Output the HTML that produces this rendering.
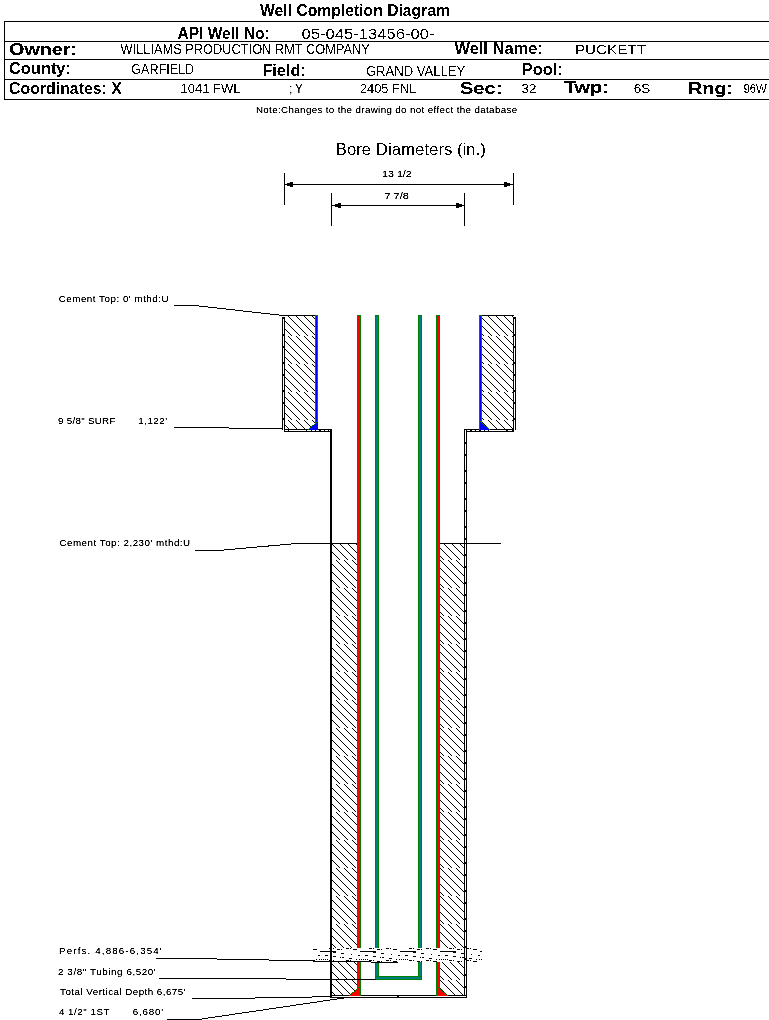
<!DOCTYPE html>
<html><head><meta charset="utf-8"><title>Well Completion Diagram</title>
<style>html,body{margin:0;padding:0;background:#fff;width:769px;height:1020px;overflow:hidden}
svg{display:block;font-family:"Liberation Sans",sans-serif}</style></head>
<body><svg width="769" height="1020" viewBox="0 0 769 1020">
<g shape-rendering="crispEdges"><rect x="4" y="21" width="765" height="1" fill="#000"/><rect x="4" y="41" width="765" height="1" fill="#000"/><rect x="4" y="59" width="765" height="1" fill="#000"/><rect x="4" y="79" width="765" height="1" fill="#000"/><rect x="4" y="99" width="765" height="1" fill="#000"/><rect x="4" y="21" width="1" height="79" fill="#000"/><rect x="284" y="173" width="1" height="32" fill="#000"/><rect x="513" y="173" width="1" height="32" fill="#000"/><rect x="284" y="184" width="230" height="1" fill="#000"/><rect x="287" y="183" width="3" height="3" fill="#000"/><rect x="290" y="182" width="3" height="5" fill="#000"/><rect x="507" y="183" width="3" height="3" fill="#000"/><rect x="504" y="182" width="3" height="5" fill="#000"/><rect x="331" y="193" width="1" height="33" fill="#000"/><rect x="464" y="193" width="1" height="33" fill="#000"/><rect x="331" y="205" width="134" height="1" fill="#000"/><rect x="335" y="204" width="3" height="3" fill="#000"/><rect x="338" y="203" width="3" height="5" fill="#000"/><rect x="459" y="204" width="3" height="3" fill="#000"/><rect x="456" y="203" width="3" height="5" fill="#000"/><pattern id="h1" patternUnits="userSpaceOnUse" x="288" y="308" width="8" height="28"><rect x="0" y="0" width="1" height="1"/><rect x="1" y="1" width="1" height="1"/><rect x="2" y="2" width="1" height="1"/><rect x="3" y="3" width="1" height="1"/><rect x="4" y="4" width="1" height="1"/><rect x="5" y="5" width="1" height="1"/><rect x="6" y="6" width="1" height="1"/><rect x="7" y="7" width="1" height="1"/><rect x="0" y="8" width="1" height="1"/><rect x="1" y="9" width="1" height="1"/><rect x="2" y="10" width="1" height="1"/><rect x="3" y="11" width="1" height="1"/><rect x="4" y="12" width="1" height="1"/><rect x="5" y="13" width="1" height="1"/><rect x="6" y="14" width="1" height="1"/><rect x="7" y="15" width="1" height="1"/><rect x="0" y="16" width="1" height="1"/><rect x="1" y="17" width="1" height="1"/><rect x="2" y="18" width="1" height="1"/><rect x="3" y="19" width="1" height="1"/><rect x="4" y="20" width="1" height="1"/><rect x="5" y="21" width="1" height="1"/><rect x="6" y="22" width="1" height="1"/><rect x="7" y="23" width="1" height="1"/><rect x="0" y="24" width="1" height="1"/><rect x="1" y="25" width="1" height="1"/><rect x="2" y="26" width="1" height="1"/><rect x="3" y="27" width="1" height="1"/></pattern><rect x="285" y="316" width="30" height="113" fill="url(#h1)"/><pattern id="h2" patternUnits="userSpaceOnUse" x="480" y="308" width="8" height="28"><rect x="0" y="0" width="1" height="1"/><rect x="1" y="1" width="1" height="1"/><rect x="2" y="2" width="1" height="1"/><rect x="3" y="3" width="1" height="1"/><rect x="4" y="4" width="1" height="1"/><rect x="5" y="5" width="1" height="1"/><rect x="6" y="6" width="1" height="1"/><rect x="7" y="7" width="1" height="1"/><rect x="0" y="8" width="1" height="1"/><rect x="1" y="9" width="1" height="1"/><rect x="2" y="10" width="1" height="1"/><rect x="3" y="11" width="1" height="1"/><rect x="4" y="12" width="1" height="1"/><rect x="5" y="13" width="1" height="1"/><rect x="6" y="14" width="1" height="1"/><rect x="7" y="15" width="1" height="1"/><rect x="0" y="16" width="1" height="1"/><rect x="1" y="17" width="1" height="1"/><rect x="2" y="18" width="1" height="1"/><rect x="3" y="19" width="1" height="1"/><rect x="4" y="20" width="1" height="1"/><rect x="5" y="21" width="1" height="1"/><rect x="6" y="22" width="1" height="1"/><rect x="7" y="23" width="1" height="1"/><rect x="0" y="24" width="1" height="1"/><rect x="1" y="25" width="1" height="1"/><rect x="2" y="26" width="1" height="1"/><rect x="3" y="27" width="1" height="1"/></pattern><rect x="482" y="316" width="31" height="113" fill="url(#h2)"/><pattern id="h3" patternUnits="userSpaceOnUse" x="336" y="588" width="8" height="28"><rect x="0" y="0" width="1" height="1"/><rect x="1" y="1" width="1" height="1"/><rect x="2" y="2" width="1" height="1"/><rect x="3" y="3" width="1" height="1"/><rect x="4" y="4" width="1" height="1"/><rect x="5" y="5" width="1" height="1"/><rect x="6" y="6" width="1" height="1"/><rect x="7" y="7" width="1" height="1"/><rect x="0" y="8" width="1" height="1"/><rect x="1" y="9" width="1" height="1"/><rect x="2" y="10" width="1" height="1"/><rect x="3" y="11" width="1" height="1"/><rect x="4" y="12" width="1" height="1"/><rect x="5" y="13" width="1" height="1"/><rect x="6" y="14" width="1" height="1"/><rect x="7" y="15" width="1" height="1"/><rect x="0" y="16" width="1" height="1"/><rect x="1" y="17" width="1" height="1"/><rect x="2" y="18" width="1" height="1"/><rect x="3" y="19" width="1" height="1"/><rect x="4" y="20" width="1" height="1"/><rect x="5" y="21" width="1" height="1"/><rect x="6" y="22" width="1" height="1"/><rect x="7" y="23" width="1" height="1"/><rect x="0" y="24" width="1" height="1"/><rect x="1" y="25" width="1" height="1"/><rect x="2" y="26" width="1" height="1"/><rect x="3" y="27" width="1" height="1"/></pattern><rect x="332" y="544" width="25" height="451" fill="url(#h3)"/><pattern id="h4" patternUnits="userSpaceOnUse" x="440" y="588" width="8" height="28"><rect x="0" y="0" width="1" height="1"/><rect x="1" y="1" width="1" height="1"/><rect x="2" y="2" width="1" height="1"/><rect x="3" y="3" width="1" height="1"/><rect x="4" y="4" width="1" height="1"/><rect x="5" y="5" width="1" height="1"/><rect x="6" y="6" width="1" height="1"/><rect x="7" y="7" width="1" height="1"/><rect x="0" y="8" width="1" height="1"/><rect x="1" y="9" width="1" height="1"/><rect x="2" y="10" width="1" height="1"/><rect x="3" y="11" width="1" height="1"/><rect x="4" y="12" width="1" height="1"/><rect x="5" y="13" width="1" height="1"/><rect x="6" y="14" width="1" height="1"/><rect x="7" y="15" width="1" height="1"/><rect x="0" y="16" width="1" height="1"/><rect x="1" y="17" width="1" height="1"/><rect x="2" y="18" width="1" height="1"/><rect x="3" y="19" width="1" height="1"/><rect x="4" y="20" width="1" height="1"/><rect x="5" y="21" width="1" height="1"/><rect x="6" y="22" width="1" height="1"/><rect x="7" y="23" width="1" height="1"/><rect x="0" y="24" width="1" height="1"/><rect x="1" y="25" width="1" height="1"/><rect x="2" y="26" width="1" height="1"/><rect x="3" y="27" width="1" height="1"/></pattern><rect x="440" y="544" width="24" height="451" fill="url(#h4)"/><rect x="283" y="315" width="35" height="1" fill="#000"/><rect x="479" y="315" width="35" height="1" fill="#000"/><rect x="282" y="317" width="3" height="113" fill="#000"/><rect x="283" y="317" width="1" height="113" fill="#fff"/><rect x="283" y="317" width="1" height="2" fill="#000"/><rect x="283" y="334" width="1" height="2" fill="#000"/><rect x="283" y="346" width="1" height="2" fill="#000"/><rect x="283" y="362" width="1" height="2" fill="#000"/><rect x="283" y="374" width="1" height="2" fill="#000"/><rect x="283" y="390" width="1" height="2" fill="#000"/><rect x="283" y="402" width="1" height="2" fill="#000"/><rect x="283" y="418" width="1" height="2" fill="#000"/><rect x="513" y="317" width="3" height="113" fill="#000"/><rect x="514" y="317" width="1" height="113" fill="#fff"/><rect x="514" y="317" width="1" height="2" fill="#000"/><rect x="514" y="334" width="1" height="2" fill="#000"/><rect x="514" y="346" width="1" height="2" fill="#000"/><rect x="514" y="362" width="1" height="2" fill="#000"/><rect x="514" y="374" width="1" height="2" fill="#000"/><rect x="514" y="390" width="1" height="2" fill="#000"/><rect x="514" y="402" width="1" height="2" fill="#000"/><rect x="514" y="418" width="1" height="2" fill="#000"/><rect x="284" y="429" width="48" height="3" fill="#000"/><rect x="285" y="430" width="3" height="1" fill="#fff"/><rect x="289" y="430" width="17" height="1" fill="#fff"/><rect x="307" y="430" width="4" height="1" fill="#fff"/><rect x="312" y="430" width="3" height="1" fill="#fff"/><rect x="316" y="430" width="3" height="1" fill="#fff"/><rect x="321" y="430" width="3" height="1" fill="#fff"/><rect x="325" y="430" width="3" height="1" fill="#fff"/><rect x="329" y="430" width="1" height="1" fill="#fff"/><rect x="464" y="429" width="50" height="3" fill="#000"/><rect x="467" y="430" width="3" height="1" fill="#fff"/><rect x="472" y="430" width="3" height="1" fill="#fff"/><rect x="476" y="430" width="3" height="1" fill="#fff"/><rect x="481" y="430" width="3" height="1" fill="#fff"/><rect x="485" y="430" width="3" height="1" fill="#fff"/><rect x="489" y="430" width="17" height="1" fill="#fff"/><rect x="508" y="430" width="4" height="1" fill="#fff"/><rect x="330" y="429" width="2" height="569" fill="#000"/><rect x="464" y="430" width="3" height="568" fill="#000"/><rect x="465" y="430" width="1" height="568" fill="#fff"/><rect x="465" y="442" width="1" height="2" fill="#000"/><rect x="465" y="454" width="1" height="2" fill="#000"/><rect x="465" y="470" width="1" height="2" fill="#000"/><rect x="465" y="482" width="1" height="2" fill="#000"/><rect x="465" y="498" width="1" height="2" fill="#000"/><rect x="465" y="510" width="1" height="2" fill="#000"/><rect x="465" y="526" width="1" height="2" fill="#000"/><rect x="465" y="538" width="1" height="2" fill="#000"/><rect x="465" y="554" width="1" height="2" fill="#000"/><rect x="465" y="566" width="1" height="2" fill="#000"/><rect x="465" y="582" width="1" height="2" fill="#000"/><rect x="465" y="594" width="1" height="2" fill="#000"/><rect x="465" y="610" width="1" height="2" fill="#000"/><rect x="465" y="622" width="1" height="2" fill="#000"/><rect x="465" y="638" width="1" height="2" fill="#000"/><rect x="465" y="650" width="1" height="2" fill="#000"/><rect x="465" y="666" width="1" height="2" fill="#000"/><rect x="465" y="678" width="1" height="2" fill="#000"/><rect x="465" y="694" width="1" height="2" fill="#000"/><rect x="465" y="706" width="1" height="2" fill="#000"/><rect x="465" y="722" width="1" height="2" fill="#000"/><rect x="465" y="734" width="1" height="2" fill="#000"/><rect x="465" y="750" width="1" height="2" fill="#000"/><rect x="465" y="762" width="1" height="2" fill="#000"/><rect x="465" y="778" width="1" height="2" fill="#000"/><rect x="465" y="790" width="1" height="2" fill="#000"/><rect x="465" y="806" width="1" height="2" fill="#000"/><rect x="465" y="818" width="1" height="2" fill="#000"/><rect x="465" y="834" width="1" height="2" fill="#000"/><rect x="465" y="846" width="1" height="2" fill="#000"/><rect x="465" y="862" width="1" height="2" fill="#000"/><rect x="465" y="874" width="1" height="2" fill="#000"/><rect x="465" y="890" width="1" height="2" fill="#000"/><rect x="465" y="902" width="1" height="2" fill="#000"/><rect x="465" y="918" width="1" height="2" fill="#000"/><rect x="465" y="930" width="1" height="2" fill="#000"/><rect x="465" y="946" width="1" height="2" fill="#000"/><rect x="465" y="958" width="1" height="2" fill="#000"/><rect x="465" y="974" width="1" height="2" fill="#000"/><rect x="465" y="986" width="1" height="2" fill="#000"/><rect x="330" y="995" width="137" height="3" fill="#000"/><rect x="332" y="996" width="65" height="1" fill="#fff"/><rect x="399" y="996" width="67" height="1" fill="#fff"/><rect x="332" y="543" width="26" height="1" fill="#000"/><rect x="440" y="543" width="61" height="1" fill="#000"/><rect x="315" y="315" width="3" height="115" fill="#008000"/><rect x="316" y="316" width="1" height="113" fill="#0000ff"/><rect x="479" y="315" width="3" height="115" fill="#008000"/><rect x="480" y="316" width="1" height="113" fill="#0000ff"/><rect x="308" y="429" width="10" height="1" fill="#0000ff"/><rect x="309" y="428" width="9" height="1" fill="#0000ff"/><rect x="310" y="427" width="8" height="1" fill="#0000ff"/><rect x="311" y="426" width="7" height="1" fill="#0000ff"/><rect x="312" y="425" width="6" height="1" fill="#0000ff"/><rect x="314" y="424" width="4" height="1" fill="#0000ff"/><rect x="315" y="423" width="3" height="1" fill="#0000ff"/><rect x="316" y="422" width="2" height="1" fill="#0000ff"/><rect x="317" y="421" width="1" height="1" fill="#0000ff"/><rect x="308" y="429" width="1" height="1" fill="#008000"/><rect x="309" y="428" width="1" height="1" fill="#008000"/><rect x="310" y="427" width="1" height="1" fill="#008000"/><rect x="311" y="426" width="1" height="1" fill="#008000"/><rect x="312" y="425" width="1" height="1" fill="#008000"/><rect x="314" y="424" width="1" height="1" fill="#008000"/><rect x="315" y="423" width="1" height="1" fill="#008000"/><rect x="316" y="422" width="1" height="1" fill="#008000"/><rect x="317" y="421" width="1" height="1" fill="#008000"/><rect x="480" y="429" width="10" height="1" fill="#0000ff"/><rect x="480" y="428" width="9" height="1" fill="#0000ff"/><rect x="480" y="427" width="8" height="1" fill="#0000ff"/><rect x="480" y="426" width="7" height="1" fill="#0000ff"/><rect x="480" y="425" width="5" height="1" fill="#0000ff"/><rect x="480" y="424" width="4" height="1" fill="#0000ff"/><rect x="480" y="423" width="3" height="1" fill="#0000ff"/><rect x="480" y="422" width="2" height="1" fill="#0000ff"/><rect x="480" y="421" width="1" height="1" fill="#0000ff"/><rect x="489" y="429" width="1" height="1" fill="#008000"/><rect x="488" y="428" width="1" height="1" fill="#008000"/><rect x="487" y="427" width="1" height="1" fill="#008000"/><rect x="486" y="426" width="1" height="1" fill="#008000"/><rect x="484" y="425" width="1" height="1" fill="#008000"/><rect x="483" y="424" width="1" height="1" fill="#008000"/><rect x="482" y="423" width="1" height="1" fill="#008000"/><rect x="481" y="422" width="1" height="1" fill="#008000"/><rect x="480" y="421" width="1" height="1" fill="#008000"/><rect x="357" y="315" width="4" height="681" fill="#008000"/><rect x="358" y="316" width="2" height="679" fill="#ff0000"/><rect x="436" y="315" width="4" height="681" fill="#008000"/><rect x="437" y="316" width="2" height="679" fill="#ff0000"/><rect x="349" y="995" width="10" height="1" fill="#ff0000"/><rect x="350" y="994" width="9" height="1" fill="#ff0000"/><rect x="351" y="993" width="8" height="1" fill="#ff0000"/><rect x="352" y="992" width="7" height="1" fill="#ff0000"/><rect x="354" y="991" width="5" height="1" fill="#ff0000"/><rect x="355" y="990" width="4" height="1" fill="#ff0000"/><rect x="356" y="989" width="3" height="1" fill="#ff0000"/><rect x="357" y="988" width="2" height="1" fill="#ff0000"/><rect x="358" y="987" width="1" height="1" fill="#ff0000"/><rect x="349" y="995" width="1" height="1" fill="#008000"/><rect x="350" y="994" width="1" height="1" fill="#008000"/><rect x="351" y="993" width="1" height="1" fill="#008000"/><rect x="352" y="992" width="1" height="1" fill="#008000"/><rect x="354" y="991" width="1" height="1" fill="#008000"/><rect x="355" y="990" width="1" height="1" fill="#008000"/><rect x="356" y="989" width="1" height="1" fill="#008000"/><rect x="357" y="988" width="1" height="1" fill="#008000"/><rect x="358" y="987" width="1" height="1" fill="#008000"/><rect x="438" y="995" width="10" height="1" fill="#ff0000"/><rect x="438" y="994" width="9" height="1" fill="#ff0000"/><rect x="438" y="993" width="8" height="1" fill="#ff0000"/><rect x="438" y="992" width="7" height="1" fill="#ff0000"/><rect x="438" y="991" width="5" height="1" fill="#ff0000"/><rect x="438" y="990" width="4" height="1" fill="#ff0000"/><rect x="438" y="989" width="3" height="1" fill="#ff0000"/><rect x="438" y="988" width="2" height="1" fill="#ff0000"/><rect x="438" y="987" width="1" height="1" fill="#ff0000"/><rect x="447" y="995" width="1" height="1" fill="#008000"/><rect x="446" y="994" width="1" height="1" fill="#008000"/><rect x="445" y="993" width="1" height="1" fill="#008000"/><rect x="444" y="992" width="1" height="1" fill="#008000"/><rect x="442" y="991" width="1" height="1" fill="#008000"/><rect x="441" y="990" width="1" height="1" fill="#008000"/><rect x="440" y="989" width="1" height="1" fill="#008000"/><rect x="439" y="988" width="1" height="1" fill="#008000"/><rect x="438" y="987" width="1" height="1" fill="#008000"/><rect x="375" y="315" width="4" height="665" fill="#008000"/><rect x="376" y="316" width="2" height="663" fill="#008080"/><rect x="418" y="315" width="4" height="665" fill="#008000"/><rect x="419" y="316" width="2" height="663" fill="#008080"/><rect x="375" y="976" width="47" height="4" fill="#008000"/><rect x="376" y="977" width="45" height="2" fill="#008080"/><rect x="313" y="948" width="169" height="14" fill="#fff"/><rect x="346" y="948" width="3" height="1" fill="#000"/><rect x="350" y="948" width="1" height="1" fill="#000"/><rect x="329" y="948" width="3" height="1" fill="#000"/><rect x="333" y="948" width="1" height="1" fill="#000"/><rect x="386" y="948" width="3" height="1" fill="#000"/><rect x="390" y="948" width="1" height="1" fill="#000"/><rect x="369" y="948" width="3" height="1" fill="#000"/><rect x="373" y="948" width="1" height="1" fill="#000"/><rect x="426" y="948" width="3" height="1" fill="#000"/><rect x="430" y="948" width="1" height="1" fill="#000"/><rect x="409" y="948" width="3" height="1" fill="#000"/><rect x="413" y="948" width="1" height="1" fill="#000"/><rect x="466" y="948" width="3" height="1" fill="#000"/><rect x="470" y="948" width="1" height="1" fill="#000"/><rect x="449" y="948" width="3" height="1" fill="#000"/><rect x="453" y="948" width="1" height="1" fill="#000"/><rect x="313" y="949" width="3" height="1" fill="#000"/><rect x="316" y="949" width="1" height="1" fill="#000"/><rect x="353" y="949" width="3" height="1" fill="#000"/><rect x="356" y="949" width="1" height="1" fill="#000"/><rect x="337" y="949" width="3" height="1" fill="#000"/><rect x="341" y="949" width="1" height="1" fill="#000"/><rect x="393" y="949" width="3" height="1" fill="#000"/><rect x="396" y="949" width="1" height="1" fill="#000"/><rect x="377" y="949" width="3" height="1" fill="#000"/><rect x="381" y="949" width="1" height="1" fill="#000"/><rect x="433" y="949" width="3" height="1" fill="#000"/><rect x="436" y="949" width="1" height="1" fill="#000"/><rect x="417" y="949" width="3" height="1" fill="#000"/><rect x="421" y="949" width="1" height="1" fill="#000"/><rect x="473" y="949" width="3" height="1" fill="#000"/><rect x="476" y="949" width="1" height="1" fill="#000"/><rect x="457" y="949" width="3" height="1" fill="#000"/><rect x="461" y="949" width="1" height="1" fill="#000"/><rect x="320" y="951" width="16" height="1" fill="#000"/><rect x="360" y="951" width="16" height="1" fill="#000"/><rect x="400" y="951" width="16" height="1" fill="#000"/><rect x="440" y="951" width="16" height="1" fill="#000"/><rect x="480" y="951" width="2" height="1" fill="#000"/><rect x="333" y="952" width="3" height="1" fill="#000"/><rect x="373" y="952" width="3" height="1" fill="#000"/><rect x="413" y="952" width="3" height="1" fill="#000"/><rect x="453" y="952" width="3" height="1" fill="#000"/><rect x="341" y="953" width="3" height="1" fill="#000"/><rect x="381" y="953" width="3" height="1" fill="#000"/><rect x="421" y="953" width="3" height="1" fill="#000"/><rect x="461" y="953" width="3" height="1" fill="#000"/><rect x="351" y="954" width="1" height="1" fill="#000"/><rect x="391" y="954" width="1" height="1" fill="#000"/><rect x="431" y="954" width="1" height="1" fill="#000"/><rect x="471" y="954" width="1" height="1" fill="#000"/><rect x="318" y="955" width="2" height="1" fill="#000"/><rect x="358" y="955" width="2" height="1" fill="#000"/><rect x="325" y="955" width="3" height="1" fill="#000"/><rect x="398" y="955" width="2" height="1" fill="#000"/><rect x="365" y="955" width="3" height="1" fill="#000"/><rect x="438" y="955" width="2" height="1" fill="#000"/><rect x="405" y="955" width="3" height="1" fill="#000"/><rect x="478" y="955" width="2" height="1" fill="#000"/><rect x="445" y="955" width="3" height="1" fill="#000"/><rect x="333" y="956" width="3" height="1" fill="#000"/><rect x="373" y="956" width="3" height="1" fill="#000"/><rect x="413" y="956" width="3" height="1" fill="#000"/><rect x="453" y="956" width="3" height="1" fill="#000"/><rect x="340" y="957" width="1" height="1" fill="#000"/><rect x="342" y="957" width="2" height="1" fill="#000"/><rect x="380" y="957" width="1" height="1" fill="#000"/><rect x="382" y="957" width="2" height="1" fill="#000"/><rect x="420" y="957" width="1" height="1" fill="#000"/><rect x="422" y="957" width="2" height="1" fill="#000"/><rect x="460" y="957" width="1" height="1" fill="#000"/><rect x="462" y="957" width="2" height="1" fill="#000"/><rect x="349" y="958" width="3" height="1" fill="#000"/><rect x="389" y="958" width="3" height="1" fill="#000"/><rect x="429" y="958" width="3" height="1" fill="#000"/><rect x="469" y="958" width="3" height="1" fill="#000"/><rect x="316" y="959" width="1" height="1" fill="#000"/><rect x="319" y="959" width="1" height="1" fill="#000"/><rect x="356" y="959" width="1" height="1" fill="#000"/><rect x="359" y="959" width="1" height="1" fill="#000"/><rect x="321" y="959" width="1" height="1" fill="#000"/><rect x="323" y="959" width="1" height="1" fill="#000"/><rect x="325" y="959" width="1" height="1" fill="#000"/><rect x="327" y="959" width="1" height="1" fill="#000"/><rect x="396" y="959" width="1" height="1" fill="#000"/><rect x="399" y="959" width="1" height="1" fill="#000"/><rect x="361" y="959" width="1" height="1" fill="#000"/><rect x="363" y="959" width="1" height="1" fill="#000"/><rect x="365" y="959" width="1" height="1" fill="#000"/><rect x="367" y="959" width="1" height="1" fill="#000"/><rect x="436" y="959" width="1" height="1" fill="#000"/><rect x="439" y="959" width="1" height="1" fill="#000"/><rect x="401" y="959" width="1" height="1" fill="#000"/><rect x="403" y="959" width="1" height="1" fill="#000"/><rect x="405" y="959" width="1" height="1" fill="#000"/><rect x="407" y="959" width="1" height="1" fill="#000"/><rect x="476" y="959" width="1" height="1" fill="#000"/><rect x="479" y="959" width="1" height="1" fill="#000"/><rect x="441" y="959" width="1" height="1" fill="#000"/><rect x="443" y="959" width="1" height="1" fill="#000"/><rect x="445" y="959" width="1" height="1" fill="#000"/><rect x="447" y="959" width="1" height="1" fill="#000"/><rect x="481" y="959" width="1" height="1" fill="#000"/><rect x="346" y="960" width="3" height="1" fill="#000"/><rect x="350" y="960" width="1" height="1" fill="#000"/><rect x="329" y="960" width="3" height="1" fill="#000"/><rect x="333" y="960" width="1" height="1" fill="#000"/><rect x="386" y="960" width="3" height="1" fill="#000"/><rect x="390" y="960" width="1" height="1" fill="#000"/><rect x="369" y="960" width="3" height="1" fill="#000"/><rect x="373" y="960" width="1" height="1" fill="#000"/><rect x="426" y="960" width="3" height="1" fill="#000"/><rect x="430" y="960" width="1" height="1" fill="#000"/><rect x="409" y="960" width="3" height="1" fill="#000"/><rect x="413" y="960" width="1" height="1" fill="#000"/><rect x="466" y="960" width="3" height="1" fill="#000"/><rect x="470" y="960" width="1" height="1" fill="#000"/><rect x="449" y="960" width="3" height="1" fill="#000"/><rect x="453" y="960" width="1" height="1" fill="#000"/><rect x="313" y="961" width="3" height="1" fill="#000"/><rect x="316" y="961" width="1" height="1" fill="#000"/><rect x="353" y="961" width="3" height="1" fill="#000"/><rect x="356" y="961" width="1" height="1" fill="#000"/><rect x="337" y="961" width="3" height="1" fill="#000"/><rect x="341" y="961" width="1" height="1" fill="#000"/><rect x="393" y="961" width="3" height="1" fill="#000"/><rect x="396" y="961" width="1" height="1" fill="#000"/><rect x="377" y="961" width="3" height="1" fill="#000"/><rect x="381" y="961" width="1" height="1" fill="#000"/><rect x="433" y="961" width="3" height="1" fill="#000"/><rect x="436" y="961" width="1" height="1" fill="#000"/><rect x="417" y="961" width="3" height="1" fill="#000"/><rect x="421" y="961" width="1" height="1" fill="#000"/><rect x="473" y="961" width="3" height="1" fill="#000"/><rect x="476" y="961" width="1" height="1" fill="#000"/><rect x="457" y="961" width="3" height="1" fill="#000"/><rect x="461" y="961" width="1" height="1" fill="#000"/><rect x="330" y="948" width="2" height="14" fill="#000"/><rect x="464" y="948" width="3" height="14" fill="#000"/><rect x="465" y="948" width="1" height="14" fill="#fff"/><rect x="465" y="958" width="1" height="2" fill="#000"/><polyline points="173.5,305.5 194.5,305.5 283.5,315.5" fill="none" stroke="#000" stroke-width="1"/><line x1="174.5" y1="427.5" x2="282.5" y2="428.5" stroke="#000" stroke-width="1"/><polyline points="194.5,550.5 218.5,550.5 296.5,543.5" fill="none" stroke="#000" stroke-width="1"/><rect x="296" y="543" width="36" height="1" fill="#000"/><rect x="156" y="958" width="61" height="1" fill="#000"/><rect x="217" y="959" width="52" height="1" fill="#000"/><rect x="269" y="960" width="46" height="1" fill="#000"/><rect x="315" y="961" width="56" height="1" fill="#000"/><rect x="371" y="962" width="27" height="1" fill="#000"/><rect x="159" y="978" width="127" height="1" fill="#000"/><rect x="286" y="979" width="90" height="1" fill="#000"/><rect x="192" y="998" width="63" height="1" fill="#000"/><rect x="255" y="997" width="57" height="1" fill="#000"/><rect x="312" y="996" width="18" height="1" fill="#000"/><rect x="167" y="1019" width="35" height="1" fill="#000"/><rect x="202" y="1018" width="6" height="1" fill="#000"/><rect x="208" y="1017" width="7" height="1" fill="#000"/><rect x="215" y="1016" width="7" height="1" fill="#000"/><rect x="222" y="1015" width="7" height="1" fill="#000"/><rect x="229" y="1014" width="6" height="1" fill="#000"/><rect x="235" y="1013" width="7" height="1" fill="#000"/><rect x="242" y="1012" width="7" height="1" fill="#000"/><rect x="249" y="1011" width="7" height="1" fill="#000"/><rect x="256" y="1010" width="7" height="1" fill="#000"/><rect x="263" y="1009" width="6" height="1" fill="#000"/><rect x="269" y="1008" width="7" height="1" fill="#000"/><rect x="276" y="1007" width="7" height="1" fill="#000"/><rect x="283" y="1006" width="7" height="1" fill="#000"/><rect x="290" y="1005" width="6" height="1" fill="#000"/><rect x="296" y="1004" width="7" height="1" fill="#000"/><rect x="303" y="1003" width="7" height="1" fill="#000"/><rect x="310" y="1002" width="7" height="1" fill="#000"/><rect x="317" y="1001" width="6" height="1" fill="#000"/><rect x="323" y="1000" width="7" height="1" fill="#000"/><rect x="330" y="999" width="7" height="1" fill="#000"/><rect x="337" y="998" width="7" height="1" fill="#000"/></g>
<filter id="crisp" x="0" y="0" width="769" height="1020" filterUnits="userSpaceOnUse"><feComponentTransfer><feFuncA type="discrete" tableValues="0 0 1 1 1"/></feComponentTransfer></filter><filter id="crisp2" x="0" y="0" width="769" height="1020" filterUnits="userSpaceOnUse"><feComponentTransfer><feFuncA type="discrete" tableValues="0 1 1"/></feComponentTransfer></filter><g fill="#000" filter="url(#crisp)"><text x="9.0" y="54.6" font-size="16.14" font-weight="bold" textLength="68.14" lengthAdjust="spacingAndGlyphs">Owner:</text><text x="459.7" y="93.6" font-size="15.71" font-weight="bold" textLength="43.03" lengthAdjust="spacingAndGlyphs">Sec:</text><text x="563.9" y="93.3" font-size="15.71" font-weight="bold" textLength="45.07" lengthAdjust="spacingAndGlyphs">Twp:</text><text x="687.9" y="93.8" font-size="16.29" font-weight="bold" textLength="45.35" lengthAdjust="spacingAndGlyphs">Rng:</text></g><filter id="crisp3" x="0" y="0" width="769" height="1020" filterUnits="userSpaceOnUse"><feComponentTransfer><feFuncA type="discrete" tableValues="0 1"/></feComponentTransfer></filter><g fill="#000" filter="url(#crisp3)"><text x="301.5" y="39.0" font-size="15.43" font-weight="normal" textLength="132.98" lengthAdjust="spacingAndGlyphs">05-045-13456-00-</text><text x="120.6" y="53.7" font-size="13.86" font-weight="normal" textLength="249.11" lengthAdjust="spacingAndGlyphs">WILLIAMS PRODUCTION RMT COMPANY</text><text x="574.92" y="53.7" font-size="13.57" font-weight="normal" textLength="71.2" lengthAdjust="spacingAndGlyphs">PUCKETT</text><text x="131.26" y="74.1" font-size="13.71" font-weight="normal" textLength="62.93" lengthAdjust="spacingAndGlyphs">GARFIELD</text><text x="365.9" y="75.9" font-size="13.86" font-weight="normal" textLength="99.4" lengthAdjust="spacingAndGlyphs">GRAND VALLEY</text><text x="180.4" y="93.0" font-size="13.43" font-weight="normal" textLength="60.1" lengthAdjust="spacingAndGlyphs">1041 FWL</text><text x="359.9" y="93.0" font-size="13.57" font-weight="normal" textLength="56.49" lengthAdjust="spacingAndGlyphs">2405 FNL</text><text x="521.6" y="92.6" font-size="13.43" font-weight="normal" textLength="14.98" lengthAdjust="spacingAndGlyphs">32</text><text x="633.8" y="92.7" font-size="13.29" font-weight="normal" textLength="16.49" lengthAdjust="spacingAndGlyphs">6S</text><text x="743.5" y="92.6" font-size="13.29" font-weight="normal" textLength="23.34" lengthAdjust="spacingAndGlyphs">96W</text><text x="335.7" y="155.1" font-size="17.0" font-weight="normal" textLength="150.29" lengthAdjust="spacingAndGlyphs">Bore Diameters (in.)</text><text x="260.0" y="16.0" font-size="17.14" font-weight="bold" textLength="190.03" lengthAdjust="spacingAndGlyphs">Well Completion Diagram</text><text x="177.5" y="39.0" font-size="15.71" font-weight="bold" textLength="92.05" lengthAdjust="spacingAndGlyphs">API Well No:</text><text x="454.4" y="54.4" font-size="15.71" font-weight="bold" textLength="88.42" lengthAdjust="spacingAndGlyphs">Well Name:</text><text x="9.0" y="74.3" font-size="15.57" font-weight="bold" textLength="61.95" lengthAdjust="spacingAndGlyphs">County:</text><text x="262.4" y="75.8" font-size="16.29" font-weight="bold" textLength="43.42" lengthAdjust="spacingAndGlyphs">Field:</text><text x="521.7" y="74.8" font-size="16.14" font-weight="bold" textLength="41.17" lengthAdjust="spacingAndGlyphs">Pool:</text><text x="9.0" y="93.9" font-size="16.43" font-weight="bold" textLength="112.94" lengthAdjust="spacingAndGlyphs">Coordinates: X</text></g><filter id="sharp" x="0" y="0" width="769" height="1020" filterUnits="userSpaceOnUse"><feComponentTransfer><feFuncA type="linear" slope="2" intercept="-0.3"/></feComponentTransfer></filter><g fill="#000" filter="url(#sharp)"><text x="289.3" y="93.0" font-size="13.43" font-weight="normal" textLength="13.2" lengthAdjust="spacingAndGlyphs">; Y</text><text x="255.9" y="112.7" font-size="9.8" font-weight="normal" textLength="261.29" lengthAdjust="spacing">Note:Changes to the drawing do not effect the database</text><text x="382.0" y="176.8" font-size="9.8" font-weight="normal" textLength="29.77" lengthAdjust="spacingAndGlyphs">13 1/2</text><text x="384.4" y="198.7" font-size="9.8" font-weight="normal" textLength="24.43" lengthAdjust="spacingAndGlyphs">7 7/8</text><text x="58.7" y="302.2" font-size="9.8" font-weight="normal" textLength="109.89" lengthAdjust="spacing">Cement Top: 0&#x27; mthd:U</text><text x="57.9" y="424.2" font-size="9.8" font-weight="normal" textLength="57.57" lengthAdjust="spacing">9 5/8&quot; SURF</text><text x="138.3" y="424.2" font-size="9.8" font-weight="normal" textLength="28.72" lengthAdjust="spacing">1,122&#x27;</text><text x="59.44" y="546.1" font-size="9.8" font-weight="normal" textLength="130.73" lengthAdjust="spacing">Cement Top: 2,230&#x27; mthd:U</text><text x="59.08" y="953.8" font-size="9.8" font-weight="normal" textLength="102.65" lengthAdjust="spacing">Perfs. 4,886-6,354&#x27;</text><text x="58.0" y="975.3" font-size="9.86" font-weight="normal" textLength="97.76" lengthAdjust="spacing">2 3/8&quot; Tubing 6,520&#x27;</text><text x="60.1" y="995.2" font-size="9.8" font-weight="normal" textLength="125.45" lengthAdjust="spacing">Total Vertical Depth 6,675&#x27;</text><text x="58.9" y="1015.1" font-size="9.8" font-weight="normal" textLength="50.57" lengthAdjust="spacing">4 1/2&quot; 1ST</text><text x="132.8" y="1015.1" font-size="9.8" font-weight="normal" textLength="30.21" lengthAdjust="spacing">6,680&#x27;</text></g>
</svg></body></html>
